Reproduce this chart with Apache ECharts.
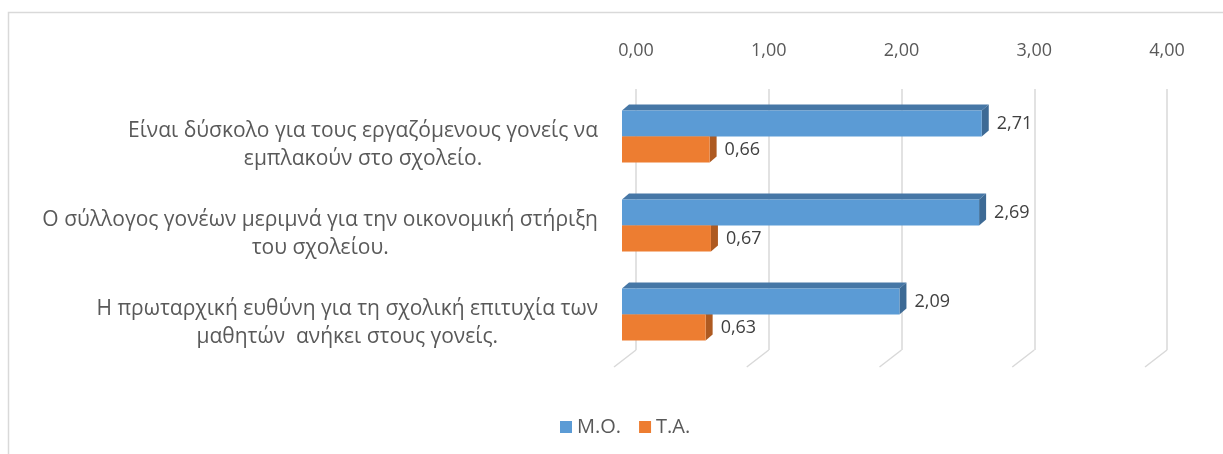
<!DOCTYPE html>
<html>
<head>
<meta charset="utf-8">
<script src="https://cdn.jsdelivr.net/npm/echarts@6/dist/echarts.min.js"></script>
<style>html,body{margin:0;padding:0;background:#fff}#c{width:1223px;height:454px}</style>
</head>
<body>
<div id="c"></div>
<script>
var categories = [
  'Είναι δύσκολο για τους εργαζόμενους γονείς να\nεμπλακούν στο σχολείο.',
  'Ο σύλλογος γονέων μεριμνά για την οικονομική στήριξη\nτου σχολείου.',
  'Η πρωταρχική ευθύνη για τη σχολική επιτυχία των\nμαθητών  ανήκει στους γονείς.'
];
var seriesNames = ['Μ.Ο.', 'Τ.Α.'];
var meanValues = [2.71, 2.69, 2.09];
var sdValues = [0.66, 0.67, 0.63];
var xTicks = [0, 1, 2, 3, 4];

var FONT = 'Open Sans';
var BAR_W = 26, DX = 7, DY = 6;
function fmt(v){ return v.toFixed(2).replace('.', ','); }

function faceItem(above, colTop, colSide){
  return function(params, api){
    var v = api.value(0), c = api.value(1);
    var p0 = api.coord([0, c]), p1 = api.coord([v, c]);
    var yTop = above ? p1[1] - BAR_W : p1[1];
    var yBot = yTop + BAR_W;
    return {type:'group', children:[
      {type:'polygon', shape:{points:[[p0[0],yTop],[p1[0],yTop],[p1[0]+DX,yTop-DY],[p0[0]+DX,yTop-DY]]}, style:{fill:colTop}},
      {type:'polygon', shape:{points:[[p1[0],yTop],[p1[0]+DX,yTop-DY],[p1[0]+DX,yBot-DY],[p1[0],yBot]]}, style:{fill:colSide}}
    ]};
  };
}

var chart = echarts.init(document.getElementById('c'));
chart.setOption({
  animation:false,
  graphic:[{type:'rect', shape:{x:8.5,y:12.5,width:1400,height:600}, style:{fill:'none', stroke:'#d9d9d9', lineWidth:1.5}, silent:true}],
  legend:{
    data:seriesNames, left:555, top:412, icon:'rect', itemWidth:12, itemHeight:12, itemGap:18,
    textStyle:{color:'#595959', fontSize:20, fontFamily:FONT}
  },
  grid:[
    {left:636, width:531, top:89, height:261},
    {left:622, width:531, top:92, height:267}
  ],
  xAxis:[
    {gridIndex:0, type:'value', min:0, max:4, interval:1, position:'top',
     axisLine:{show:false}, axisTick:{show:false},
     splitLine:{lineStyle:{color:'#d9d9d9', width:1.5}},
     axisLabel:{margin:29, color:'#595959', fontSize:18, fontFamily:FONT, formatter:function(v){return fmt(v);}}},
    {gridIndex:1, type:'value', min:0, max:4, interval:1, show:false}
  ],
  yAxis:[
    {gridIndex:0, type:'value', min:0, max:1, show:false},
    {gridIndex:1, type:'category', data:categories, inverse:true,
     axisLine:{show:false}, axisTick:{show:false},
     axisLabel:{margin:24, padding:[18,0,0,0], fontFamily:FONT,
       formatter:function(v){ return v.split('\n').map(function(l){return '{c|'+l+'}';}).join('\n'); },
       rich:{c:{align:'center', color:'#595959', fontSize:21, lineHeight:28, fontFamily:FONT}}}}
  ],
  series:[
    {type:'custom', name:'floor', xAxisIndex:0, yAxisIndex:0, silent:true, z:1,
     data:xTicks.map(function(t){return [t];}),
     renderItem:function(params, api){
       var p = api.coord([api.value(0), 0]);
       return {type:'line', shape:{x1:p[0], y1:p[1], x2:p[0]-22, y2:p[1]+17}, style:{stroke:'#d9d9d9', lineWidth:1.5}};
     }},
    {type:'custom', name:seriesNames[1], xAxisIndex:1, yAxisIndex:1, z:2, silent:true,
     itemStyle:{color:'#ed7d31'},
     data:sdValues.map(function(v,i){return [v,i];}),
     renderItem:faceItem(false, '#c5682a', '#ae5a21')},
    {type:'custom', name:seriesNames[0], xAxisIndex:1, yAxisIndex:1, z:2, silent:true,
     itemStyle:{color:'#5b9bd5'},
     data:meanValues.map(function(v,i){return [v,i];}),
     renderItem:faceItem(true, '#4677a6', '#3d6a95')},
    {type:'bar', name:seriesNames[0], xAxisIndex:1, yAxisIndex:1, data:meanValues, barWidth:BAR_W, barGap:'0%', z:3,
     itemStyle:{color:'#5b9bd5'},
     label:{show:true, position:'right', distance:15, color:'#404040', fontSize:18, fontFamily:FONT, formatter:function(p){return fmt(p.value);}}},
    {type:'bar', name:seriesNames[1], xAxisIndex:1, yAxisIndex:1, data:sdValues, barWidth:BAR_W, barGap:'0%', z:3,
     itemStyle:{color:'#ed7d31'},
     label:{show:true, position:'right', distance:15, color:'#404040', fontSize:18, fontFamily:FONT, formatter:function(p){return fmt(p.value);}}}
  ]
});
</script>
</body>
</html>
